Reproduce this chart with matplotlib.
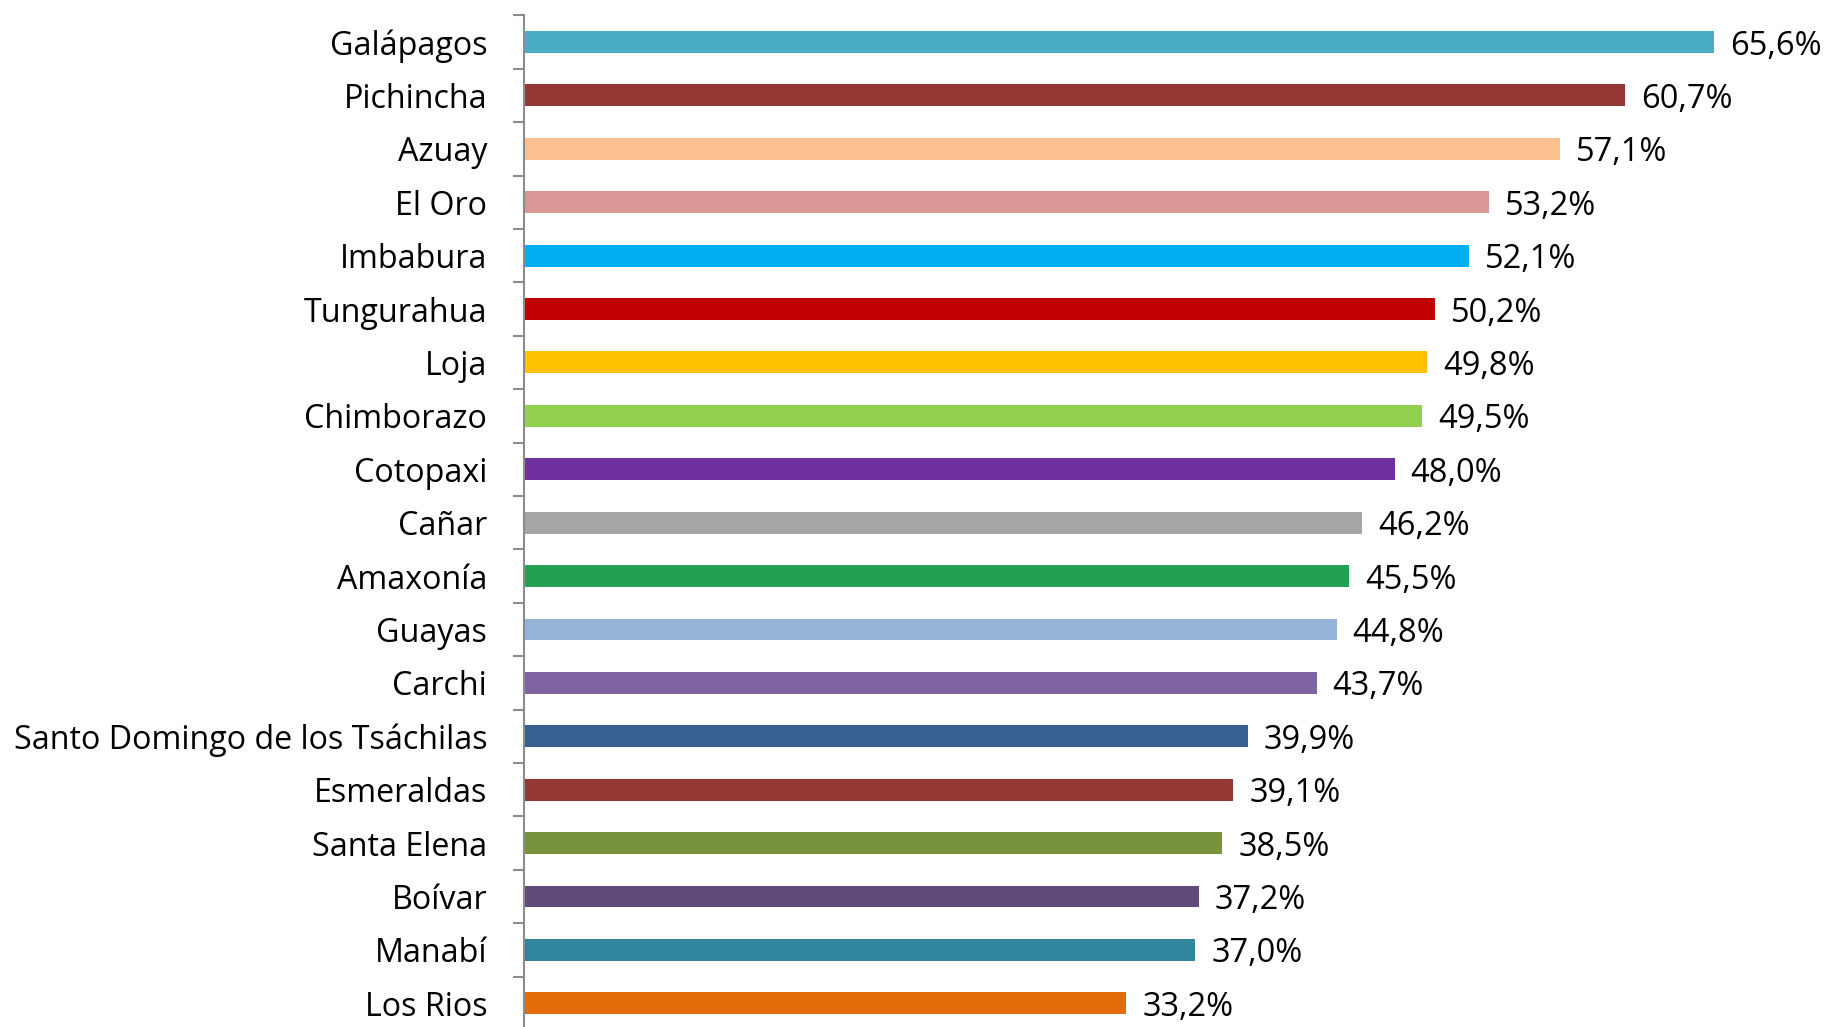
import matplotlib
matplotlib.use("Agg")
import matplotlib.pyplot as plt

categories = ["Galápagos", "Pichincha", "Azuay", "El Oro", "Imbabura", "Tungurahua",
              "Loja", "Chimborazo", "Cotopaxi", "Cañar", "Amaxonía", "Guayas", "Carchi",
              "Santo Domingo de los Tsáchilas", "Esmeraldas", "Santa Elena", "Boívar",
              "Manabí", "Los Rios"]
values = [65.6, 60.7, 57.1, 53.2, 52.1, 50.2, 49.8, 49.5, 48.0, 46.2, 45.5, 44.8, 43.7,
          39.9, 39.1, 38.5, 37.2, 37.0, 33.2]
colors = ["#4BACC6", "#953735", "#FAC090", "#D99694", "#00B0F0", "#C00000", "#FFC000",
          "#92D050", "#7030A0", "#A6A6A6", "#23A152", "#95B3D7", "#8064A2", "#376092",
          "#953735", "#77933C", "#604A7B", "#31859C", "#E46C0A"]

plt.rcParams['font.family'] = ['Open Sans', 'DejaVu Sans']

W, H = 1826, 1027
fig = plt.figure(figsize=(W/100, H/100), dpi=100)
left_px, top_px, bottom_px = 524, 15.3, 1030.0
right_px = 1830
ax = fig.add_axes([left_px/W, 1 - bottom_px/H, (right_px-left_px)/W, (bottom_px-top_px)/H])

n = len(categories)
ypos = list(range(n))
ax.barh(ypos, values, height=0.41, color=colors)
ax.set_ylim(n - 0.5, -0.5)
ax.set_xlim(0, (right_px-left_px)/18.14)

for y, v in zip(ypos, values):
    ax.annotate(f"{v:.1f}".replace(".", ",") + "%", (v, y), xytext=(16, -4),
                textcoords="offset pixels", va="center", ha="left", fontsize=23.5,
                annotation_clip=False)

ax.set_yticks(ypos)
ax.set_yticklabels(categories, fontsize=23.2)
ax.set_yticks([i - 0.5 for i in range(n + 1)], minor=True)
ax.tick_params(axis='y', which='major', length=0, pad=26.5)
ax.tick_params(axis='y', which='minor', length=8, width=1.5, color="#8C8C8C")
ax.set_xticks([])
for s in ["top", "right", "bottom"]:
    ax.spines[s].set_visible(False)
ax.spines["left"].set_color("#8C8C8C")
ax.spines["left"].set_linewidth(1.5)

fig.savefig("out.png", dpi=100)
